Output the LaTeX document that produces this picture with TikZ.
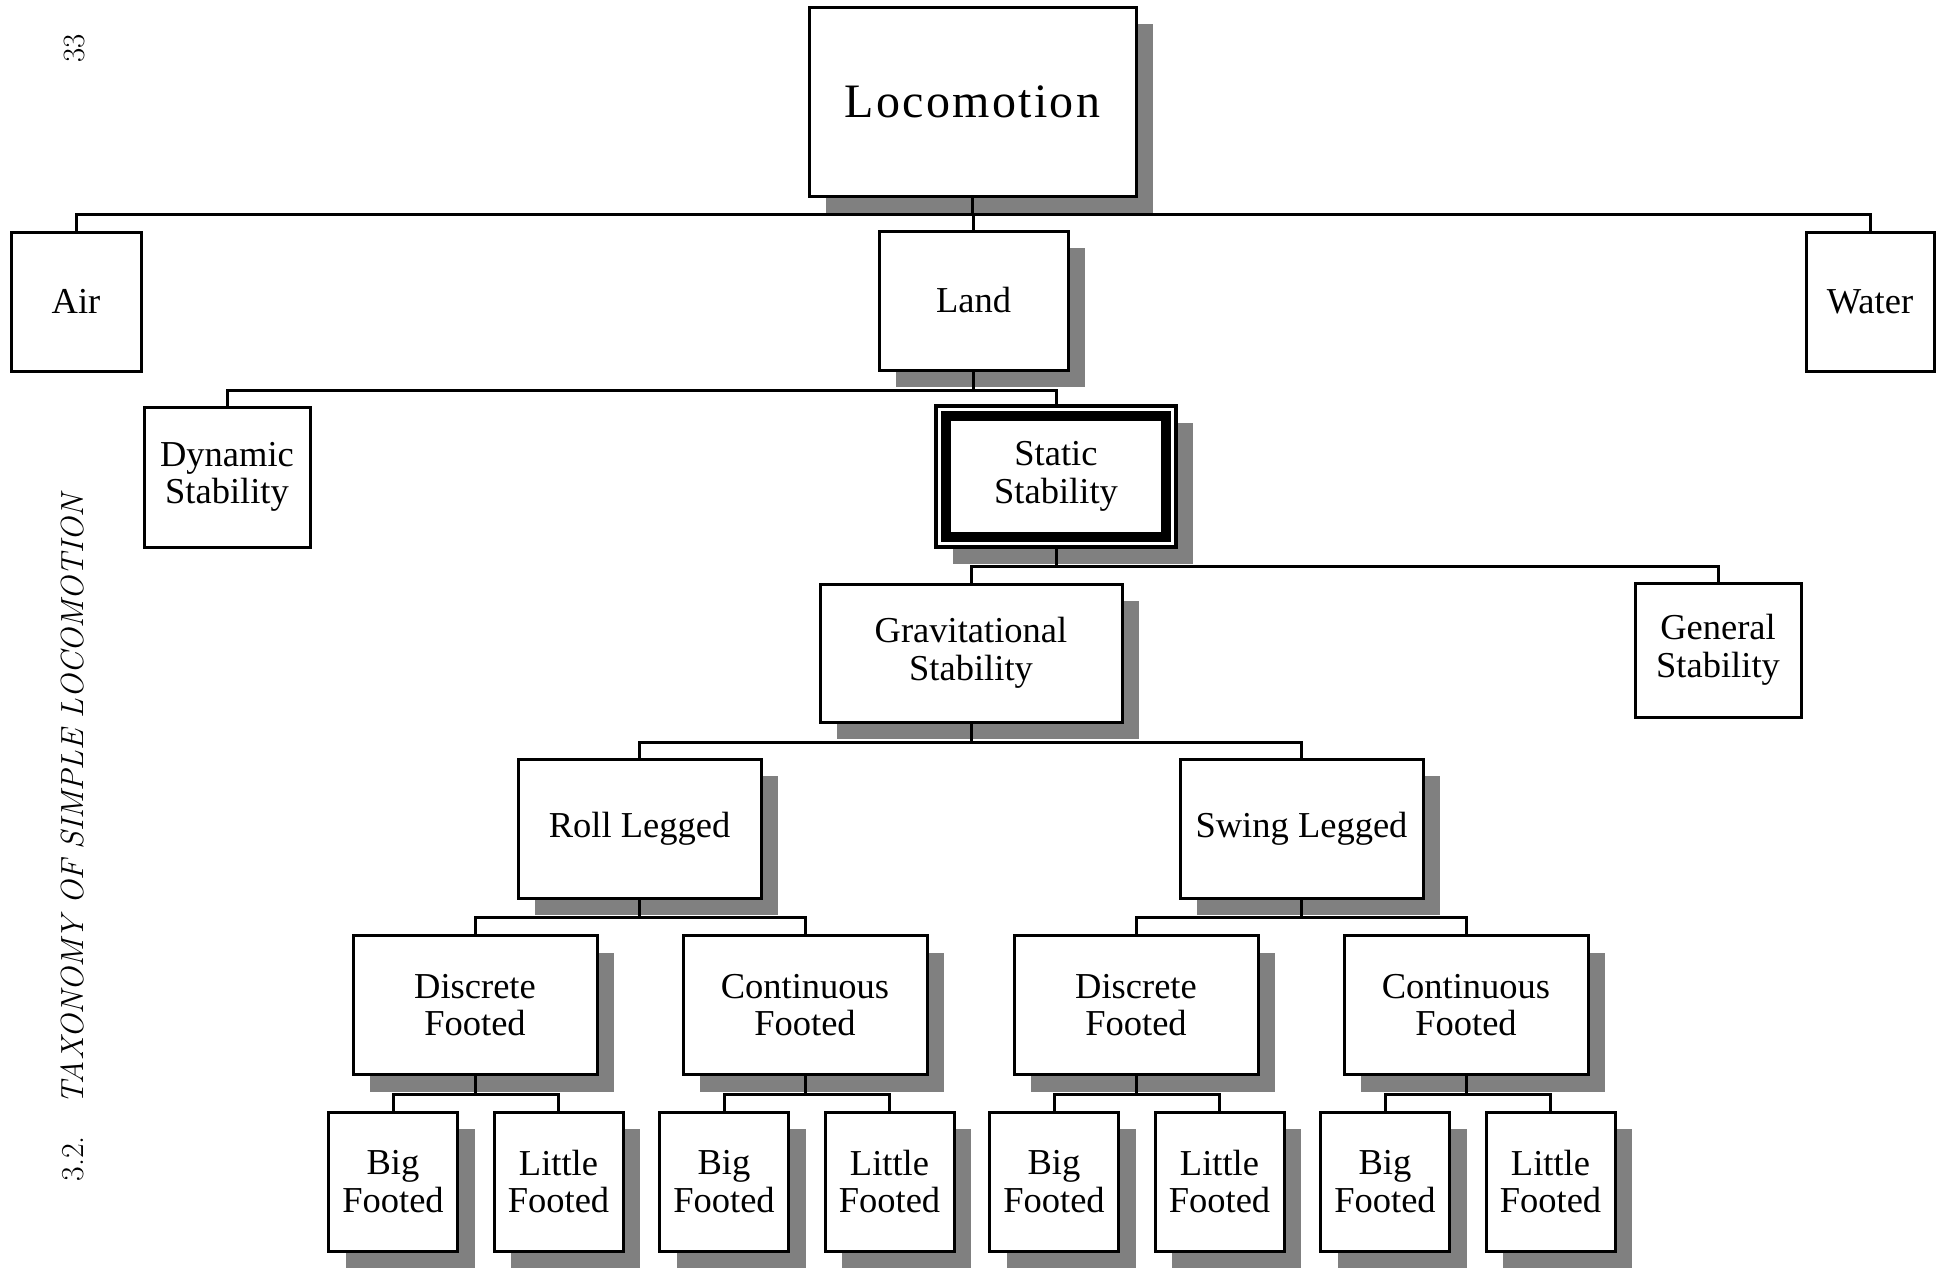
\documentclass[tikz,border=0pt]{standalone}
\usepackage{fontspec}
\usepackage{tikz}
\usetikzlibrary{shadows}
\newfontfamily\boxfont{Liberation Serif}
\newfontfamily\locofont[LetterSpace=4.8]{Liberation Serif}
\definecolor{shadeGray}{HTML}{808080}

\begin{document}
\begin{tikzpicture}[x=0.5pt, y=-0.5pt,
  box/.style={draw, line width=1.5pt, fill=white, inner sep=0pt, align=center,
    minimum height=69.5pt, font=\boxfont\fontsize{18.25}{18.75}\selectfont},
  shade/.style={drop shadow={shadow xshift=8.5pt, shadow yshift=-8.5pt,
    opacity=1, fill=shadeGray}},
  midbox/.style={box, shade, minimum width=122pt},
  leafbox/.style={box, shade, minimum width=64.5pt},
  link/.style={line width=1.5pt}]
  \useasboundingbox (0,0) rectangle (1936,1269);
  % Running head of the page
  \node[rotate=90, anchor=base west, inner sep=0pt, font=\fontsize{15.5}{18}\selectfont]
    (pagenum) at (84,63) {33};
  \node[rotate=90, anchor=base west, inner sep=0pt, font=\fontsize{16}{18}\selectfont]
    (head) at (83,1182) {3.2.\quad\textit{TAXONOMY OF SIMPLE LOCOMOTION}};
  % Levels of the tree
  \coordinate (b1) at (0,214);
  \coordinate (b2) at (0,390);
  \coordinate (b3) at (0,566);
  \coordinate (b4) at (0,742);
  \coordinate (b5) at (0,917);
  \coordinate (b6) at (0,1094);
  % Root
  \node[box, shade, minimum width=163.5pt, minimum height=94.5pt,
    font=\locofont\fontsize{24}{28}\selectfont] (loco) at (972.5,101.5) {Locomotion};
  % Media
  \node[box, minimum width=65pt] (air) at (76,301.5) {Air};
  \node[box, shade, minimum width=94.5pt] (land) at (973.5,300.5) {Land};
  \node[box, minimum width=64pt] (water) at (1870,301.5) {Water};
  % Stability
  \node[box, minimum width=83pt, minimum height=70pt] (dyn) at (227,477) {Dynamic\\Stability};
  \node[box, shade, line width=2.2pt, minimum width=120pt, minimum height=70.5pt]
    (stat) at (1056,476.5) {Static\\Stability};
  \draw[line width=5pt] ([shift={(6.25pt,-6.25pt)}]stat.north west)
    rectangle ([shift={(-6.25pt,6.25pt)}]stat.south east);
  \node[box, shade, minimum width=151pt, minimum height=69pt] (grav) at (971,653) {Gravitational\\Stability};
  \node[box, minimum width=83pt, minimum height=67pt] (gen) at (1718,650) {General\\Stability};
  % Legs
  \node[box, shade, minimum width=121.5pt] (roll) at (639.5,828.5) {Roll Legged};
  \node[box, shade, minimum width=121.5pt] (swing) at (1301.5,828.5) {Swing Legged};
  % Feet
  \node[midbox] (rdisc) at (475,1005) {Discrete\\Footed};
  \node[midbox] (rcont) at (805,1005) {Continuous\\Footed};
  \node[midbox] (sdisc) at (1136,1005) {Discrete\\Footed};
  \node[midbox] (scont) at (1466,1005) {Continuous\\Footed};
  % Connectors
  \foreach \c in {air, land, water}
    \draw[link] (loco.south) -- (loco.south |- b1) -| (\c.north);
  \foreach \c in {dyn, stat}
    \draw[link] (land.south) -- (land.south |- b2) -| (\c.north);
  \foreach \c in {grav, gen}
    \draw[link] (stat.south) -- (stat.south |- b3) -| (\c.north);
  \foreach \c in {roll, swing}
    \draw[link] (grav.south) -- (grav.south |- b4) -| (\c.north);
  \foreach \c in {rdisc, rcont}
    \draw[link] (roll.south) -- (roll.south |- b5) -| (\c.north);
  \foreach \c in {sdisc, scont}
    \draw[link] (swing.south) -- (swing.south |- b5) -| (\c.north);
  % Leaves
  \foreach \q/\x in {rdisc/393, rcont/724, sdisc/1054, scont/1385} {
    \node[leafbox] (\q-big) at (\x,1181.5) {Big\\Footed};
    \node[leafbox] (\q-lit) at (\x+165.5,1181.5) {Little\\Footed};
    \draw[link] (\q.south) -- (\q.south |- b6) -| (\q-big.north);
    \draw[link] (\q.south |- b6) -| (\q-lit.north);
  }
\end{tikzpicture}
\end{document}
